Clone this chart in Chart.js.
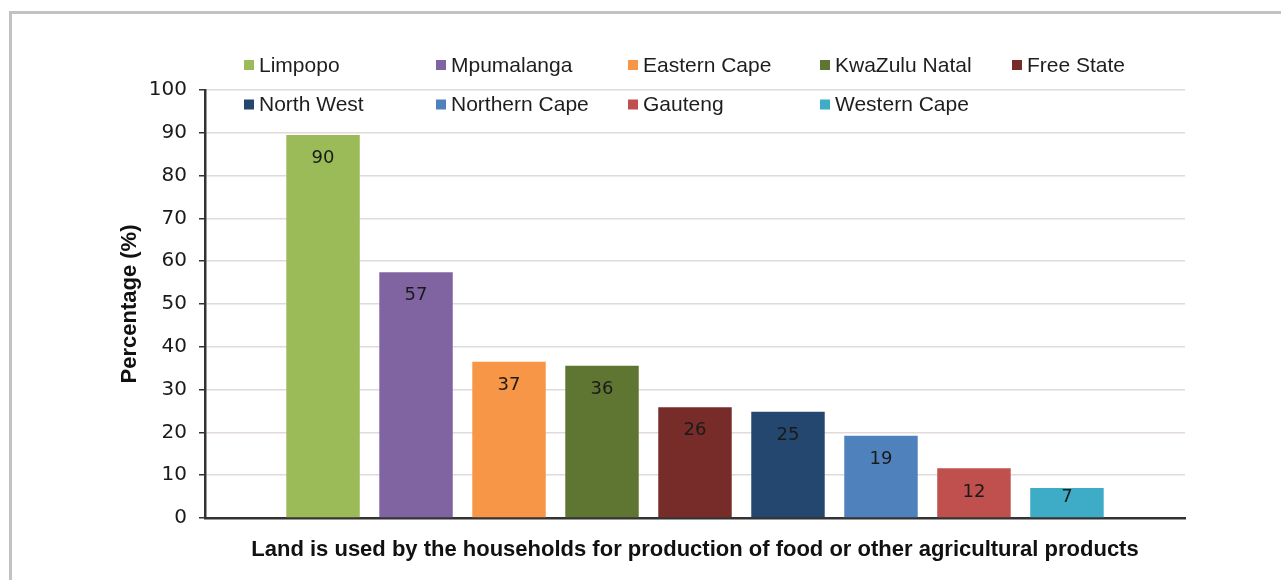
<!DOCTYPE html>
<html>
<head>
<meta charset="utf-8">
<script src="https://cdn.jsdelivr.net/npm/chart.js@4.4.1/dist/chart.umd.min.js"></script>
<style>
  html, body { margin: 0; padding: 0; background: #ffffff; overflow: hidden; }
  #frame { position: absolute; left: 9px; top: 11px; width: 1400px; height: 700px; border: 3px solid #c2c2c2; box-sizing: border-box; }
  #wrap { position: absolute; left: 0; top: 0; width: 1281px; height: 580px; }
</style>
</head>
<body>
<div id="frame"></div>
<div id="wrap"><canvas id="c" width="1281" height="580"></canvas></div>
<script>
// ---- data ----
const provinces = ["Limpopo", "Mpumalanga", "Eastern Cape", "KwaZulu Natal", "Free State",
                   "North West", "Northern Cape", "Gauteng", "Western Cape"];
const percentages = [89.5, 57.4, 36.5, 35.6, 25.9, 24.8, 19.2, 11.6, 7.0];
const barColors = ["#9bbb59", "#8064a2", "#f79646", "#5f7632", "#772c2a",
                   "#244770", "#4f81bd", "#c0504d", "#3eabc7"];
const yTicks = [0, 10, 20, 30, 40, 50, 60, 70, 80, 90, 100];
const xTitle = "Land is used by the households for production of food or other agricultural products";
const yTitle = "Percentage (%)";

const datasets = provinces.map((p, i) => ({
  label: p,
  data: [percentages[i]],
  backgroundColor: barColors[i],
  borderWidth: 0
}));

const valueLabels = {
  id: 'valueLabels',
  afterDatasetsDraw(chart) {
    const ctx = chart.ctx;
    ctx.save();
    ctx.font = '18px "DejaVu Sans"';
    ctx.fillStyle = '#1a1a1a';
    ctx.textAlign = 'center';
    ctx.textBaseline = 'middle';
    chart.data.datasets.forEach((ds, i) => {
      const meta = chart.getDatasetMeta(i);
      meta.data.forEach((el, j) => {
        const top = el.y, bottom = el.base;
        let y = top + 23.5;
        if (y + 12 > bottom) y = top + 9;
        ctx.fillText(String(Math.round(ds.data[j])), el.x, y);
      });
    });
    ctx.restore();
  }
};

const gridLegend = {
  id: 'gridLegend',
  afterDraw(chart) {
    const ctx = chart.ctx;
    const perRow = 5, x0 = 244, colW = 192, y0 = 65, rowH = 39.5, box = 10;
    ctx.save();
    ctx.font = '21px "Liberation Sans"';
    ctx.textBaseline = 'middle';
    ctx.textAlign = 'left';
    chart.data.datasets.forEach((ds, i) => {
      const col = i % perRow, row = Math.floor(i / perRow);
      const x = x0 + col * colW, y = y0 + row * rowH;
      ctx.fillStyle = ds.backgroundColor;
      ctx.fillRect(x, y - box / 2, box, box);
      ctx.fillStyle = '#1e1e1e';
      ctx.fillText(ds.label, x + 15, y + 1);
    });
    ctx.restore();
  }
};

new Chart(document.getElementById('c'), {
  type: 'bar',
  data: { labels: [''], datasets },
  options: {
    responsive: false,
    animation: false,
    devicePixelRatio: 1,
    categoryPercentage: 0.854,
    barPercentage: 0.79,
    layout: { padding: { left: 0, top: 90, right: 96, bottom: 0 } },
    plugins: {
      legend: { display: false },
      tooltip: { enabled: false },
      title: { display: false }
    },
    scales: {
      x: {
        grid: { display: false },
        border: { display: true, color: '#333333', width: 2.5 },
        ticks: { display: false },
        title: {
          display: true,
          text: xTitle,
          color: '#111111',
          font: { family: '"Liberation Sans"', size: 22, weight: 'bold' },
          padding: { top: 0, bottom: 17 }
        },
        afterFit(s) { s.height = 62; }
      },
      y: {
        min: 0,
        max: 100,
        afterBuildTicks(s) { s.ticks = yTicks.map(v => ({ value: v })); },
        grid: { color: '#e2dada', lineWidth: 1.5, tickColor: '#333333', tickLength: 6, tickWidth: 1.5 },
        border: { display: true, color: '#333333', width: 2.5 },
        ticks: {
          color: '#1a1a1a',
          padding: 12,
          font: { family: '"DejaVu Sans"', size: 20 }
        },
        title: {
          display: true,
          text: yTitle,
          color: '#111111',
          font: { family: '"Liberation Sans"', size: 22, weight: 'bold' },
          padding: { top: 117, bottom: 0 }
        },
        afterFit(s) { s.width = 205; }
      }
    }
  },
  plugins: [valueLabels, gridLegend]
});
</script>
</body>
</html>
